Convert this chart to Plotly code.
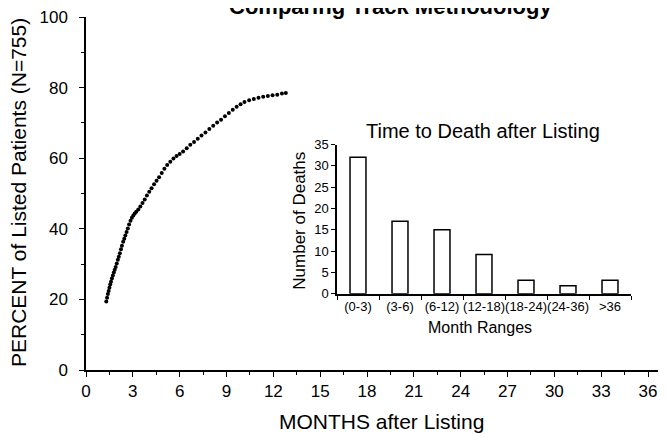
import plotly.graph_objects as go

# ---- main curve data (months after listing, percent of listed patients) ----
months = [1.30, 1.35, 1.40, 1.45, 1.50, 1.55, 1.60, 1.66, 1.72, 1.78, 1.84, 1.90,
          1.97, 2.04, 2.10, 2.17, 2.24, 2.30, 2.38, 2.45, 2.52, 2.60, 2.68, 2.76,
          2.85, 2.94, 3.03, 3.12, 3.22, 3.35, 3.48, 3.62, 3.76, 3.90, 4.05, 4.20,
          4.36, 4.52, 4.68, 4.85, 5.02, 5.20, 5.40, 5.60, 5.80, 6.00, 6.22, 6.45,
          6.68, 6.92, 7.16, 7.40, 7.65, 7.90, 8.15, 8.40, 8.65, 8.90, 9.15, 9.40,
          9.65, 9.90, 10.15, 10.45, 10.75, 11.05, 11.35, 11.65, 11.95, 12.25, 12.55, 12.80]
percent = [19.4, 20.5, 21.5, 22.4, 23.3, 24.2, 25.0, 25.9, 26.8, 27.6, 28.4, 29.2,
           30.2, 31.2, 32.1, 33.1, 34.2, 35.2, 36.3, 37.2, 38.1, 39.1, 40.1, 41.2,
           42.3, 43.1, 43.8, 44.3, 44.8, 45.5, 46.3, 47.3, 48.3, 49.4, 50.5, 51.5,
           52.6, 53.6, 54.6, 55.8, 57.0, 58.1, 59.0, 59.9, 60.6, 61.2, 61.9, 62.8,
           63.8, 64.6, 65.5, 66.4, 67.3, 68.3, 69.2, 70.1, 70.9, 71.9, 72.8, 73.7,
           74.6, 75.3, 75.9, 76.4, 76.8, 77.1, 77.4, 77.6, 77.8, 78.0, 78.3, 78.5]

main_xticks = [0, 3, 6, 9, 12, 15, 18, 21, 24, 27, 30, 33, 36]
main_yticks = [0, 20, 40, 60, 80, 100]

# ---- inset histogram data ----
ranges = ["(0-3)", "(3-6)", "(6-12)", "(12-18)", "(18-24)", "(24-36)", ">36"]
deaths = [32, 17, 15, 9.2, 3.2, 1.9, 3.2]
inset_yticks = [0, 5, 10, 15, 20, 25, 30, 35]

FONT = "Arial, Liberation Sans, sans-serif"

# The page body has an 8px margin, so the figure is sized to fit the window.
OFF = 8
VW, VH = 666, 437
W, H = VW - OFF, VH - OFF
# target plot area in window pixels: x 85..666, y 13..370
PX0, PX1, PY0, PY1 = 86, 666, 13, 370
L, R = PX0 - OFF, VW - PX1
T, B = PY0 - OFF, VH - PY1
PW, PH = PX1 - PX0, PY1 - PY0


def px(x):
    return (x - PX0) / PW


def py(y):
    return (PY1 - y) / PH


fig = go.Figure()
fig.add_trace(go.Scatter(x=months, y=percent, mode="markers",
                         marker=dict(color="black", size=4, symbol="circle"),
                         showlegend=False, xaxis="x", yaxis="y"))
fig.add_trace(go.Bar(x=ranges, y=deaths, width=0.38,
                     marker=dict(color="white", line=dict(color="black", width=1.5)),
                     showlegend=False, xaxis="x2", yaxis="y2"))

axis_common = dict(showgrid=False, zeroline=False, showline=True, linecolor="black",
                   linewidth=1.5, ticks="outside", tickcolor="black", tickwidth=1.2,
                   ticklabeloverflow="allow")

fig.update_layout(
    width=W, height=H,
    margin=dict(l=L, r=R, t=T, b=B, pad=0),
    paper_bgcolor="white", plot_bgcolor="white",
    font=dict(family=FONT, color="black"),
    xaxis=dict(domain=[0, 1], range=[0, 37.15], tickvals=main_xticks, ticklen=5,
               tickfont=dict(size=17), ticklabelstandoff=0,
               minor=dict(dtick=1.5, tick0=0, ticks="outside", ticklen=3,
                          tickcolor="black", tickwidth=1.2),
               **axis_common),
    yaxis=dict(domain=[0, 1], range=[0, 100], tickvals=main_yticks, ticklen=5,
               tickfont=dict(size=17), ticklabelstandoff=8,
               minor=dict(dtick=10, tick0=0, ticks="outside", ticklen=3,
                          tickcolor="black", tickwidth=1.2),
               **axis_common),
    xaxis2=dict(domain=[px(337), px(631)], anchor="y2", type="category",
                tickson="boundaries", ticklen=4, tickangle=0,
                tickfont=dict(size=13), **axis_common),
    yaxis2=dict(domain=[py(293), py(142)], anchor="x2", range=[0, 35],
                tickvals=inset_yticks, ticklen=4, tickfont=dict(size=13),
                **axis_common),
    bargap=0.62,
)

ann = [
    dict(text="<b>Comparing Track Methodology</b>", x=px(390), y=py(17),
         xanchor="center", yanchor="bottom", font=dict(size=22)),
    dict(text="PERCENT of Listed Patients (N=755)", x=px(18), y=py(191),
         xanchor="center", yanchor="middle", textangle=-90, font=dict(size=21)),
    dict(text="MONTHS after Listing", x=px(381), y=py(422),
         xanchor="center", yanchor="middle", font=dict(size=21)),
    dict(text="Time to Death after Listing", x=px(483), y=py(128),
         xanchor="center", yanchor="middle", font=dict(size=20)),
    dict(text="Number of Deaths", x=px(300), y=py(219),
         xanchor="center", yanchor="middle", textangle=-90, font=dict(size=17)),
    dict(text="Month Ranges", x=px(480), y=py(327),
         xanchor="center", yanchor="middle", font=dict(size=16)),
]
for a in ann:
    a.update(xref="paper", yref="paper", showarrow=False)
fig.update_layout(annotations=ann)

fig.write_html("out.html")
